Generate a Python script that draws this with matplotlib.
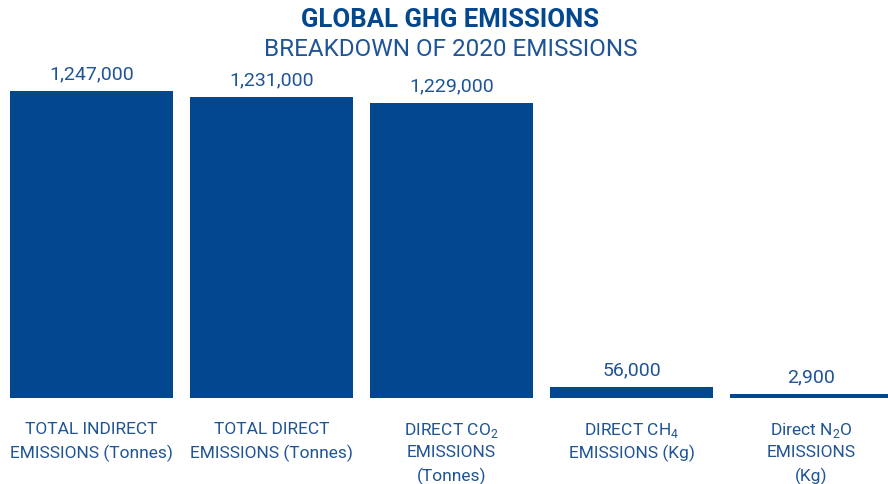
import matplotlib
matplotlib.use("Agg")
import matplotlib.pyplot as plt
from matplotlib.transforms import blended_transform_factory

plt.rcParams["font.family"] = ["Roboto", "DejaVu Sans"]
plt.rcParams["mathtext.fontset"] = "custom"
plt.rcParams["mathtext.rm"] = "Roboto"

BAR = "#03488e"
TXT = "#1f5497"

categories = [
    ["TOTAL INDIRECT", "EMISSIONS (Tonnes)"],
    ["TOTAL DIRECT", "EMISSIONS (Tonnes)"],
    ["DIRECT CO$_\\mathregular{2}$", "EMISSIONS", "(Tonnes)"],
    ["DIRECT CH$_\\mathregular{4}$", "EMISSIONS (Kg)"],
    ["Direct N$_\\mathregular{2}$O", "EMISSIONS", "(Kg)"],
]
value_labels = ["1,247,000", "1,231,000", "1,229,000", "56,000", "2,900"]
# drawn bar heights as they appear in the picture (not to scale with the labels)
bar_heights = [1247000, 1223000, 1199000, 44700, 16300]

fig = plt.figure(figsize=(8.88, 4.84), dpi=100)
# axes spans a bit past the right edge, so the last bar is cut off like the original
ax = fig.add_axes([1.5 / 888, 1 - 398 / 484, 900 / 888, 330 / 484])
x = list(range(len(categories)))
ax.bar(x, bar_heights, width=163 / 180, color=BAR)
ax.set_xlim(-0.5, len(categories) - 0.5)
ax.set_ylim(0, 1247000 / 307 * 330)
ax.axis("off")

for xi, h, lab in zip(x, bar_heights, value_labels):
    ax.annotate(lab, (xi, h), xytext=(0, 8.5), textcoords="offset points",
                ha="center", va="baseline", fontsize=14, color=TXT)

# category labels, one text per line so the line spacing stays even
tr = blended_transform_factory(ax.transData, fig.transFigure)
for xi, lines in zip(x, categories):
    for k, line in enumerate(lines):
        ax.text(xi, 1 - (428 + 23 * k) / 484, line, transform=tr,
                ha="center", va="center_baseline", fontsize=12.5, color=TXT)

fig.text(450 / 888, 1 - 20 / 484, "GLOBAL GHG EMISSIONS", ha="center", va="center",
         fontsize=18.5, fontweight="bold", color=BAR)
fig.text(451 / 888, 1 - 50 / 484, "BREAKDOWN OF 2020 EMISSIONS", ha="center", va="center",
         fontsize=17.5, color=TXT)

fig.savefig("out.png", dpi=100)
